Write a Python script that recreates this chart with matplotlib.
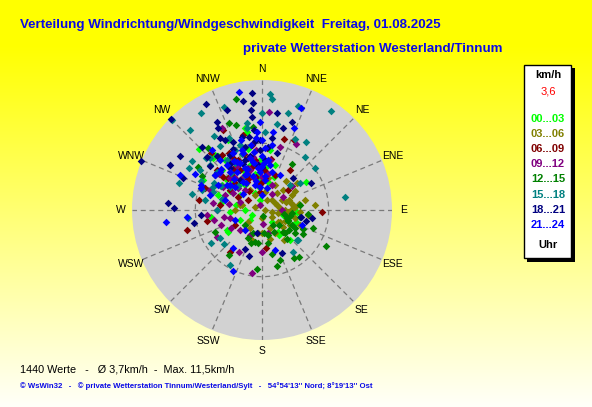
import numpy as np
import matplotlib
matplotlib.use("Agg")
import matplotlib.pyplot as plt
from matplotlib.patches import Rectangle

# ---------------- data (direction in degrees from north, speed in km/h) ----------------
hour_labels = ["00...03", "03...06", "06...09", "09...12", "12...15", "15...18", "18...21", "21...24"]
hour_colors = ["#00ff00", "#808000", "#800000", "#800080", "#008000", "#008080", "#000080", "#0000ff"]

dir_00_03 = [348, 349, 314, 321, 57, 320, 323, 270, 243, 246, 97, 97, 146, 240, 13, 349, 326, 358, 347, 16,
             137, 302, 262, 317, 289, 329, 352, 326, 338, 12, 266, 230, 140, 237, 229, 103, 93, 144, 304, 313,
             345, 0, 8, 334, 297, 349, 281, 335, 320, 350, 5, 300, 280, 345, 315, 20, 100, 110,
             330, 343, 310, 355]
spd_00_03 = [7.4, 7.0, 7.8, 6.2, 4.6, 6.4, 5.5, 1.5, 1.0, 2.1, 2.0, 2.8, 2.7, 3.6, 2.0, 3.2, 4.3, 4.4, 5.5, 4.1,
             3.6, 4.2, 4.6, 6.3, 4.1, 4.3, 3.1, 2.7, 1.6, 2.5, 2.8, 1.4, 1.4, 3.6, 2.0, 1.9, 3.1, 2.4, 2.4, 3.6,
             4.1, 3.5, 5.4, 6.9, 5.9, 0.9, 2.3, 3.8, 3.0, 2.2, 3.8, 3.3, 3.7, 4.8, 5.0, 3.1, 2.4, 3.2,
             3.4, 4.0, 4.2, 2.7]

dir_03_06 = [72, 63, 76, 85, 90, 101, 124, 118, 190, 180, 214, 229, 156, 93, 10, 335, 283, 28, 63, 77,
             11, 46, 52, 62, 84, 125, 71, 81, 90, 293, 284, 127, 180, 27, 41, 94, 104, 112, 143, 165,
             198, 270, 329, 334, 85, 96, 45, 60, 80, 100, 130, 150, 70, 90, 40, 115]
spd_03_06 = [1.4, 2.0, 2.6, 2.9, 2.0, 0.9, 1.9, 2.8, 2.1, 2.0, 1.9, 1.6, 1.7, 3.4, 1.6, 1.5, 2.0, 2.5, 3.0, 3.9,
             2.9, 2.6, 3.9, 1.3, 1.6, 1.1, 2.2, 2.8, 0.3, 0.7, 1.8, 1.8, 0.7, 1.0, 2.0, 2.3, 3.0, 3.6, 3.3, 2.7,
             2.8, 2.4, 2.1, 3.4, 4.7, 4.1, 1.2, 3.4, 3.3, 1.4, 2.4, 2.3, 2.5, 2.6, 3.3, 2.2]

dir_06_09 = [17, 334, 255, 259, 174, 217, 92, 25, 291, 318, 324, 331, 5, 332, 354, 298, 306, 331, 313, 352,
             4, 20, 351, 312, 302, 277, 241, 52, 35, 346, 279, 0, 334, 340, 350, 320, 330, 0, 10, 345, 310,
             300, 325, 355, 335, 338, 348, 325, 315, 5, 342]
spd_06_09 = [6.6, 7.9, 6.9, 5.0, 3.4, 4.7, 5.3, 6.8, 5.4, 6.8, 6.0, 5.3, 5.5, 2.8, 1.6, 2.4, 1.5, 4.0, 4.1, 4.5,
             3.5, 3.3, 5.8, 5.3, 3.3, 3.7, 2.7, 2.9, 4.3, 6.8, 5.6, 2.5, 4.9, 3.6, 3.0, 3.8, 5.8, 3.8, 4.6, 4.8,
             4.5, 4.2, 2.0, 2.3, 3.0, 3.3, 4.0, 4.4, 3.4, 2.8, 5.2]

dir_09_12 = [4, 27, 16, 51, 31, 239, 209, 189, 180, 258, 334, 313, 0, 290, 338, 58, 256, 176, 165, 228,
             90, 278, 343, 327, 320, 292, 265, 9, 354, 206, 250, 22, 320, 291, 330, 345, 300, 280, 315, 350,
             260, 240, 10, 335, 342, 325, 310, 355, 300, 270]
spd_09_12 = [8.7, 6.6, 5.8, 3.4, 1.7, 4.6, 4.2, 5.6, 3.7, 4.3, 8.1, 2.9, 2.9, 2.1, 0.5, 2.2, 2.9, 1.2, 2.1, 2.6,
             1.8, 4.4, 3.7, 5.3, 2.3, 3.5, 4.9, 4.5, 5.3, 2.5, 3.9, 2.4, 3.7, 4.9, 4.5, 3.0, 3.0, 3.0, 4.0, 4.8,
             3.4, 3.2, 3.2, 5.8, 3.9, 3.3, 5.0, 4.1, 4.0, 4.0]

dir_12_15 = [347, 343, 339, 304, 83, 33, 185, 165, 167, 146, 142, 120, 119, 102, 113, 136, 170, 198, 192, 216,
             169, 144, 111, 96, 100, 135, 207, 187, 166, 319, 300, 354, 117, 119, 108, 126, 160, 109, 229, 245,
             100, 125, 140, 150, 115, 130, 95, 175, 200]
spd_12_15 = [10.1, 7.9, 8.2, 6.8, 3.4, 4.9, 5.2, 5.1, 4.0, 5.1, 5.3, 4.2, 6.5, 2.5, 2.5, 2.7, 3.0, 3.1, 2.9, 4.9,
             0.5, 1.6, 2.5, 2.7, 3.4, 2.9, 2.8, 2.9, 2.3, 7.3, 6.1, 7.4, 3.0, 3.3, 2.3, 3.0, 4.7, 4.8, 2.0, 4.6,
             2.0, 3.6, 3.4, 2.2, 4.0, 2.0, 4.1, 2.0, 2.2]

dir_15_18 = [315, 35, 81, 4, 5, 340, 328, 318, 305, 300, 288, 283, 52, 39, 33, 19, 15, 25, 10, 0,
             350, 313, 264, 237, 236, 228, 210, 144, 130, 327, 335, 327, 341, 350, 2, 288, 299, 290, 55, 48,
             131, 280, 303, 311, 336, 300, 310, 295, 320, 330, 285, 315, 340, 270, 305, 325, 295, 315]
spd_15_18 = [11.3, 10.7, 7.4, 10.3, 9.9, 9.7, 10.1, 9.5, 7.6, 7.5, 7.7, 6.4, 6.0, 6.0, 7.2, 9.7, 8.9, 6.9, 7.7, 8.6,
             7.8, 6.8, 6.6, 5.4, 4.5, 4.5, 5.6, 4.6, 4.1, 7.8, 7.0, 6.8, 6.1, 7.4, 6.9, 5.6, 4.9, 4.6, 4.1, 3.3,
             4.1, 5.1, 6.5, 6.1, 5.8, 4.2, 5.2, 6.0, 4.3, 4.8, 3.7, 6.5, 5.3, 4.0, 3.5, 5.4, 4.8, 3.0]

dir_18_21 = [292, 315, 332, 355, 350, 341, 333, 332, 303, 296, 292, 274, 9, 19, 61, 44, 14, 355, 354, 354,
             271, 259, 265, 204, 196, 155, 100, 104, 99, 330, 332, 316, 314, 354, 354, 358, 8, 345, 337, 192,
             358, 341, 323, 3, 324, 307, 345, 330, 355, 5, 320, 340, 350, 310, 15, 335, 348, 338, 325, 0]
spd_18_21 = [11.5, 11.4, 10.6, 10.4, 9.8, 9.4, 8.7, 8.2, 8.7, 9.1, 7.5, 8.3, 8.7, 8.2, 5.0, 3.9, 7.5, 9.5, 8.9, 8.3,
             7.8, 6.1, 5.4, 3.8, 4.2, 4.2, 3.5, 4.0, 4.5, 7.4, 7.0, 7.7, 6.8, 7.1, 6.1, 6.2, 6.4, 6.7, 6.5, 2.1,
             5.3, 4.7, 4.7, 4.4, 3.3, 5.2, 5.8, 5.6, 4.0, 5.6, 6.2, 3.9, 6.6, 6.0, 5.2, 6.0, 4.9, 4.4, 5.0, 3.8]

dir_21_24 = [349, 21, 21, 8, 263, 265, 217, 205, 111, 293, 292, 290, 359, 9, 356, 355, 333, 342, 347, 333,
             322, 312, 349, 355, 286, 15, 307, 310, 250, 220, 162, 334, 344, 6, 350, 0, 308, 320, 343, 320,
             298, 285, 7, 27, 0, 340, 350, 355, 5, 10, 330, 320, 345, 0, 352, 338, 315, 325, 12, 348,
             3, 335, 300, 310, 358, 337, 327, 318, 342, 357, 2, 305, 330]
spd_21_24 = [10.6, 7.8, 9.7, 7.0, 8.6, 6.7, 4.2, 6.0, 3.8, 7.9, 5.8, 5.7, 7.8, 5.8, 6.9, 6.4, 5.7, 5.3, 4.7, 4.8,
             5.0, 5.0, 4.3, 3.7, 4.8, 3.5, 5.2, 3.1, 2.5, 2.3, 3.7, 3.4, 2.3, 2.7, 5.8, 6.2, 3.6, 5.8, 6.5, 6.9,
             6.7, 3.4, 4.5, 3.5, 1.3, 3.9, 4.2, 2.0, 3.0, 4.0, 2.8, 4.4, 3.1, 4.8, 5.2, 4.0, 5.1, 3.0, 2.0, 2.6,
             5.5, 4.6, 4.5, 2.2, 3.8, 3.5, 4.0, 3.7, 5.6, 3.4, 4.2, 3.8, 5.0]

directions = ["N", "NNE", "NE", "ENE", "E", "ESE", "SE", "SSE",
              "S", "SSW", "SW", "WSW", "W", "WNW", "NW", "NNW"]
speed_max = 11.5
inner_ring = 5.9

title_1 = "Verteilung Windrichtung/Windgeschwindigkeit  Freitag, 01.08.2025"
title_2 = "private Wetterstation Westerland/Tinnum"
stats_text = "1440 Werte   -   \u00d8 3,7km/h  -  Max. 11,5km/h"
footer_text = ("\u00a9 WsWin32   -   \u00a9 private Wetterstation Tinnum/Westerland/Sylt   -   "
               "54\u00b054'13'' Nord; 8\u00b019'13'' Ost")

groups_dir = [dir_00_03, dir_03_06, dir_06_09, dir_09_12, dir_12_15, dir_15_18, dir_18_21, dir_21_24]
groups_spd = [spd_00_03, spd_03_06, spd_06_09, spd_09_12, spd_12_15, spd_15_18, spd_18_21, spd_21_24]

# ---------------- figure ----------------
W, H = 592, 407
fig = plt.figure(figsize=(W / 100, H / 100), dpi=100)
FONT = "Liberation Sans"


def fx(px):
    return px / W


def fy(py):
    return 1 - py / H


# background gradient (yellow at top, pale at bottom)
bg = fig.add_axes([0, 0, 1, 1])
bg.set_axis_off()
rows = np.arange(H)
blue = np.clip((rows - 45) * 0.69, 0, 248) / 255.0
img = np.zeros((H, 1, 3))
img[:, 0, 0] = 1.0
img[:, 0, 1] = 1.0
img[:, 0, 2] = blue
bg.imshow(img, aspect="auto", extent=[0, 1, 0, 1], origin="upper")
bg.set_xlim(0, 1)
bg.set_ylim(0, 1)

# polar axes
cx, cy, R = 262, 210, 130
ax = fig.add_axes([fx(cx - R), fy(cy + R), fx(2 * R), (2 * R) / H], projection="polar")
ax.set_facecolor("#d2d2d2")
ax.spines["polar"].set_visible(False)
ax.set_theta_zero_location("N")
ax.set_theta_direction(-1)
ax.set_ylim(0, speed_max)
ax.set_xticks([])
ax.set_yticks([])
ax.grid(False)

dash = (0, (4, 3))
gcol = "#7a7a7a"
th = np.linspace(0, 2 * np.pi, 400)
ax.plot(th, np.full_like(th, inner_ring), ls=dash, color=gcol, lw=0.9, zorder=1)
for i, name in enumerate(directions):
    a = np.deg2rad(i * 22.5)
    r0 = 0.3 if i % 4 == 0 else 4.0
    ax.plot([a, a], [r0, speed_max], ls=dash, color=gcol, lw=0.9, zorder=1)
    ax.text(a, 12.5, name, ha="center", va="center", fontsize=7.5, family=FONT,
            color="black", clip_on=False)

for d, s, c in zip(groups_dir, groups_spd, hour_colors):
    ax.scatter(np.deg2rad(d), s, marker="D", s=15, c=c, linewidths=0, zorder=3, clip_on=False)

# titles
fig.text(fx(20), fy(25), title_1, fontsize=9.6, weight="bold", color="#0a0ae6",
         family=FONT, ha="left", va="center")
fig.text(fx(243), fy(49), title_2, fontsize=9.6, weight="bold", color="#0a0ae6",
         family=FONT, ha="left", va="center")

# bottom texts
fig.text(fx(20), fy(369), stats_text, fontsize=7.8, color="black", family=FONT,
         ha="left", va="center")
fig.text(fx(20), fy(386), footer_text, fontsize=5.6, weight="bold", color="#0a0ae6",
         family=FONT, ha="left", va="center")

# legend box
fig.patches.append(Rectangle((fx(527), fy(262)), fx(48), (262 - 68) / H,
                             transform=fig.transFigure, facecolor="black", edgecolor="none"))
fig.patches.append(Rectangle((fx(524), fy(258)), fx(47), (258 - 65) / H,
                             transform=fig.transFigure, facecolor="white", edgecolor="black", lw=1))
lx = 548
fig.text(fx(lx), fy(75), "km/h", fontsize=8, weight="bold", color="black", family=FONT,
         ha="center", va="center")
fig.text(fx(lx), fy(92), "3,6", fontsize=8, color="red", family=FONT, ha="center", va="center")
for i, (lab, col) in enumerate(zip(hour_labels, hour_colors)):
    fig.text(fx(lx), fy(119 + i * 15.1), lab, fontsize=8, weight="bold", color=col,
             family=FONT, ha="center", va="center")
fig.text(fx(lx), fy(245), "Uhr", fontsize=8, weight="bold", color="black", family=FONT,
         ha="center", va="center")

fig.savefig("out.png", dpi=100)
